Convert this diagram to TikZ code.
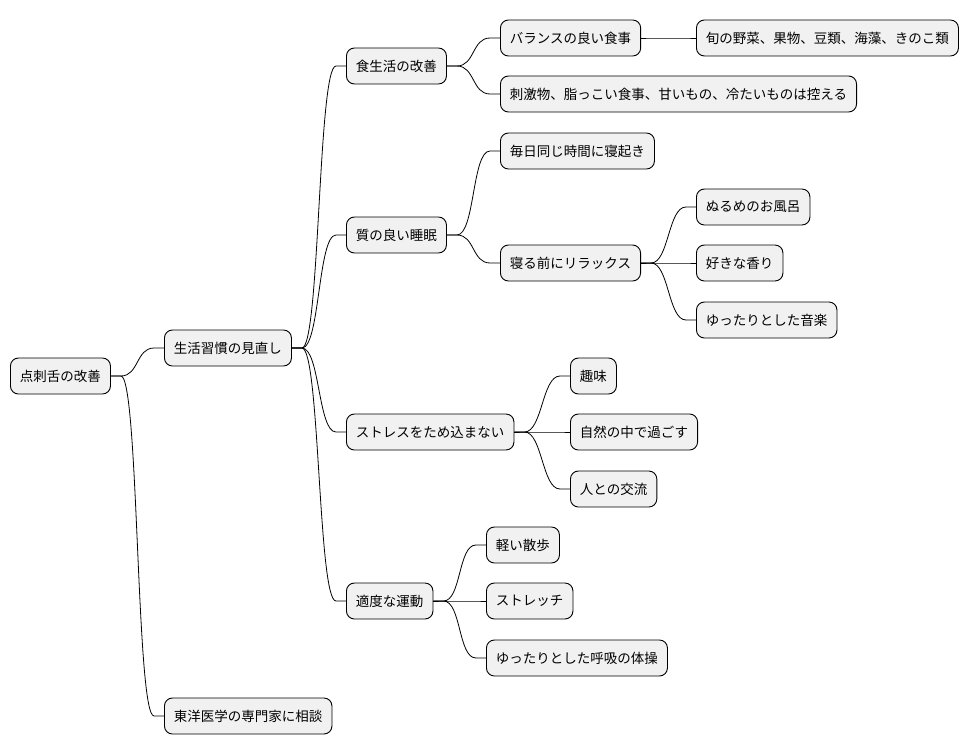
\documentclass[tikz,border=0pt]{standalone}
\usepackage{fontspec}
\setmainfont{Noto Sans CJK JP}
\usetikzlibrary{calc}
\begin{document}
\begin{tikzpicture}[x=1pt,y=-1pt,
  n/.style={draw=black,line width=0.9pt,fill={rgb,255:red,241;green,241;blue,241},rounded corners=8pt,minimum height=36pt,inner xsep=9.5pt,anchor=west,font=\fontsize{13.5}{16}\selectfont},
  c/.style={line width=0.8pt}]
\useasboundingbox (0,0) rectangle (978,752);
\fill[white] (0,0) rectangle (978,752);
\node[n] (r) at (10,376) {点刺舌の改善};
\node[n] (a) at (164,348) {生活習慣の見直し};
\node[n] (b) at (164,716) {東洋医学の専門家に相談};
\node[n] (a1) at (346,66) {食生活の改善};
\node[n] (a2) at (346,235) {質の良い睡眠};
\node[n] (a3) at (346,432) {ストレスをため込まない};
\node[n] (a4) at (346,601) {適度な運動};
\node[n] (a11) at (500,38) {バランスの良い食事};
\node[n] (a111) at (696,38) {旬の野菜、果物、豆類、海藻、きのこ類};
\node[n] (a12) at (500,94) {刺激物、脂っこい食事、甘いもの、冷たいものは控える};
\node[n] (a21) at (500,151) {毎日同じ時間に寝起き};
\node[n] (a22) at (500,263) {寝る前にリラックス};
\node[n] (a221) at (696,207) {ぬるめのお風呂};
\node[n] (a222) at (696,263) {好きな香り};
\node[n] (a223) at (696,320) {ゆったりとした音楽};
\node[n] (a31) at (570,376) {趣味};
\node[n] (a32) at (570,432) {自然の中で過ごす};
\node[n] (a33) at (570,489) {人との交流};
\node[n] (a41) at (486,545) {軽い散歩};
\node[n] (a42) at (486,601) {ストレッチ};
\node[n] (a43) at (486,658) {ゆったりとした呼吸の体操};
\foreach \p/\q in {r/a,r/b,a/a1,a/a2,a/a3,a/a4,a1/a11,a1/a12,a11/a111,a2/a21,a2/a22,a22/a221,a22/a222,a22/a223,a3/a31,a3/a32,a3/a33,a4/a41,a4/a42,a4/a43}{
  \draw[c] (\p.east) -- ($(\p.east)+(10,0)$) .. controls ($(\p.east)+(28,0)$) and ($(\q.west)+(-28,0)$) .. ($(\q.west)+(-10,0)$) -- (\q.west);
}
\end{tikzpicture}
\end{document}
